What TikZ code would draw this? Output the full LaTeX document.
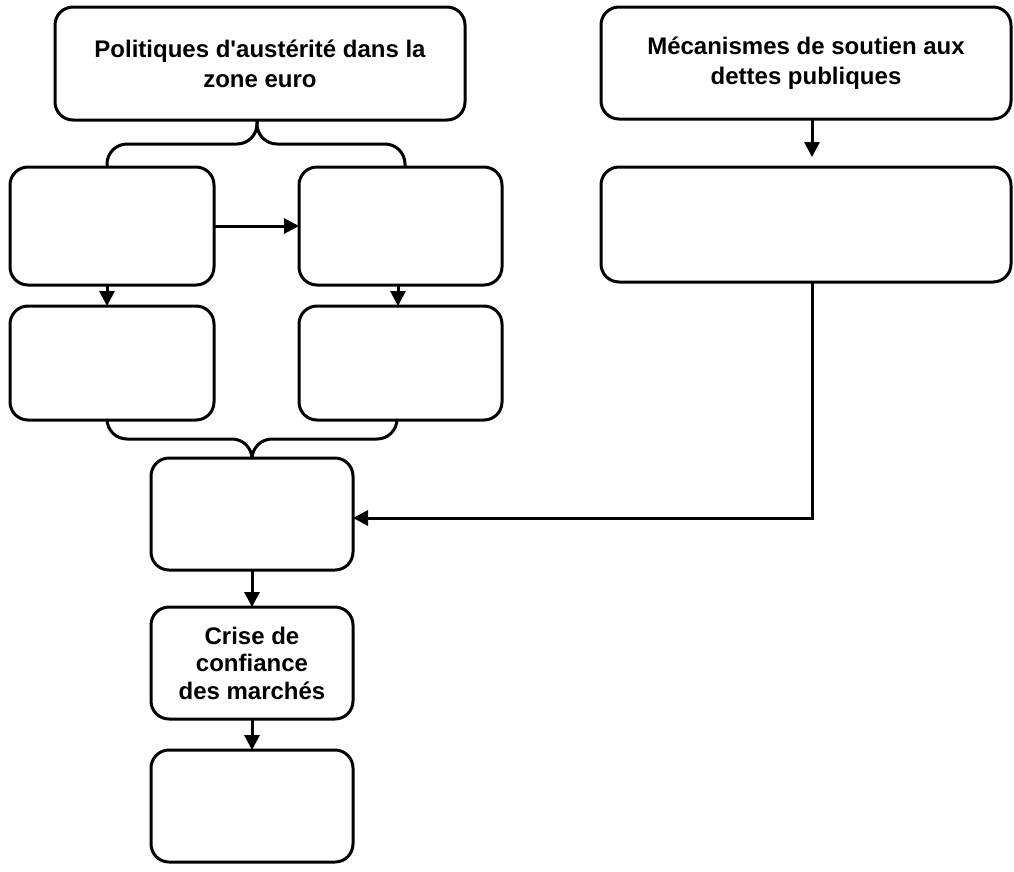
\documentclass[tikz,border=0pt]{standalone}
\usepackage{fontspec}
\setmainfont{Liberation Sans}
\usetikzlibrary{arrows.meta}
\tikzset{
  box/.style={draw, line width=3pt, rounded corners=18pt, align=center,
    font=\fontsize{24}{27.5}\selectfont\bfseries, inner sep=0pt, outer sep=0pt},
  topbox/.style={box, font=\fontsize{24}{30}\selectfont\bfseries},
  conn/.style={line width=3pt, -{Triangle[length=15pt,width=15pt]}},
  brace/.style={line width=3pt, rounded corners=20pt}
}
\begin{document}
\begin{tikzpicture}[x=1pt,y=-1pt]
\useasboundingbox (0,0) rectangle (1014,871);
% nodes
\node[topbox, minimum width=410pt, minimum height=113pt] (TL) at (260,63.5) {Politiques d\textquotesingle austérité dans la\\zone euro};
\node[topbox, minimum width=410pt, minimum height=112pt] (TR) at (806,63) {Mécanismes de soutien aux\\dettes publiques};
\node[box, minimum width=204pt, minimum height=118pt] (A) at (112,226) {};
\node[box, minimum width=203pt, minimum height=118pt] (B) at (400.5,226) {};
\node[box, minimum width=410pt, minimum height=115pt] (C) at (806,224.5) {};
\node[box, minimum width=204pt, minimum height=114pt] (D) at (112,363) {};
\node[box, minimum width=203pt, minimum height=114pt] (E) at (400.5,363) {};
\node[box, minimum width=202pt, minimum height=112pt] (F) at (252,514) {};
\node[box, minimum width=202pt, minimum height=112pt] (G) at (252,663) {Crise de\\confiance\\des marchés};
\node[box, minimum width=202pt, minimum height=112pt] (H) at (252,806) {};
% braces
\draw[brace] (107,167) -- (107,144) -- (257,144) -- (257,121);
\draw[brace] (257,121) -- (257,144) -- (405,144) -- (405,167);
\draw[brace] (107,420) -- (107,439) -- (252,439) -- (252,458);
\draw[brace] (252,458) -- (252,439) -- (397,439) -- (397,420);
% connectors
\draw[conn] (A.east) -- (B.west);
\draw[conn] (A.south -| 107,0) -- (D.north -| 107,0);
\draw[conn] (B.south -| 398,0) -- (E.north -| 398,0);
\draw[conn] ([xshift=6pt]TR.south) -- ([xshift=6pt,yshift=10pt]C.north);
\draw[conn] ([xshift=6pt]C.south) |- ([yshift=-4pt]F.east);
\draw[conn] (F.south) -- (G.north);
\draw[conn] (G.south) -- (H.north);
\end{tikzpicture}
\end{document}
